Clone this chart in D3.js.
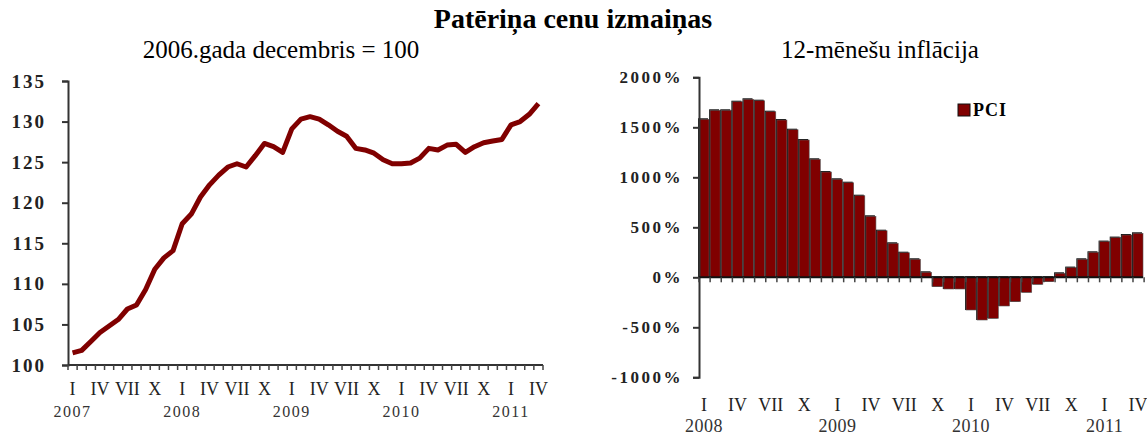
<!DOCTYPE html>
<html>
<head>
<meta charset="utf-8">
<script src="https://cdn.jsdelivr.net/npm/d3@7"></script>
<style>
  body { margin: 0; background: #fff; }
  svg { display: block; font-family: "Liberation Serif", "Times New Roman", serif; }
  .axis path, .axis line { stroke: #333; }
</style>
</head>
<body>
<svg id="chart" width="1147" height="436"></svg>
<script>
// months of each series
const romans = ['I', 'II', 'III', 'IV', 'V', 'VI', 'VII', 'VIII', 'IX', 'X', 'XI', 'XII'];
const indexYears = [2007, 2008, 2009, 2010, 2011];
const inflYears = [2008, 2009, 2010, 2011];

// PCI, 2006. gada decembris = 100 (I.2007 - IV.2011)
const cpiIndex = [
  101.5, 101.8, 102.9, 104.0, 104.8, 105.6, 106.9, 107.4, 109.3, 111.8, 113.2, 114.1,
  117.4, 118.6, 120.7, 122.2, 123.4, 124.4, 124.8, 124.4, 125.8, 127.3, 126.9, 126.2,
  129.1, 130.3, 130.6, 130.3, 129.6, 128.8, 128.2, 126.7, 126.5, 126.1, 125.3, 124.8,
  124.8, 124.9, 125.5, 126.7, 126.5, 127.1, 127.2, 126.2, 126.9, 127.4, 127.6, 127.8,
  129.6, 130.0, 130.9, 132.2
];

// 12-mēnešu inflācija (I.2008 - IV.2011)
const inflation = [
  1580, 1670, 1670, 1756, 1780, 1766, 1656, 1573, 1476, 1373, 1180, 1053,
  980, 946, 816, 610, 466, 340, 246, 180, 50, -93, -117, -117,
  -327, -427, -410, -287, -243, -150, -70, -43, 40, 97, 180, 250,
  357, 397, 423, 440
];

const indexTicks = [100, 105, 110, 115, 120, 125, 130, 135];
const inflTicks = [-1000, -500, 0, 500, 1000, 1500, 2000];
const legendLabel = 'PCI';

const DARKRED = '#800000';

function monthsFrom(year, n) {
  return d3.range(n).map(i => ({ key: i, year: year + Math.floor(i / 12), m: i % 12 }));
}

const svg = d3.select('#chart');

svg.append('text')
  .attr('x', 573).attr('y', 28)
  .attr('text-anchor', 'middle')
  .attr('font-size', 28).attr('font-weight', 'bold')
  .text('Patēriņa cenu izmaiņas');

svg.append('text')
  .attr('x', 281).attr('y', 58)
  .attr('text-anchor', 'middle')
  .attr('font-size', 25)
  .text('2006.gada decembris = 100');

svg.append('text')
  .attr('x', 880).attr('y', 58)
  .attr('text-anchor', 'middle')
  .attr('font-size', 25)
  .text('12-mēnešu inflācija');

// month axis: ticks on the category borders, roman numerals each quarter, year under January
function monthAxis(g, x, months, y0, labelY, yearY, opts) {
  const step = x.step();
  g.append('line')
    .attr('x1', x.range()[0]).attr('x2', x.range()[1])
    .attr('y1', y0).attr('y2', y0)
    .attr('stroke', opts.lineColor).attr('stroke-width', 2);
  g.selectAll('.mtick')
    .data(months.concat([{ key: months.length }]))
    .enter().append('line')
    .attr('class', 'mtick')
    .attr('x1', d => x.range()[0] + d.key * step)
    .attr('x2', d => x.range()[0] + d.key * step)
    .attr('y1', y0).attr('y2', y0 + 5)
    .attr('stroke', '#444').attr('stroke-width', 1.5);
  g.selectAll('.mlabel')
    .data(months.filter(d => d.m % 3 === 0))
    .enter().append('text')
    .attr('class', 'mlabel')
    .attr('x', d => x(d.key) + x.bandwidth() / 2)
    .attr('y', labelY)
    .attr('text-anchor', 'middle')
    .attr('font-size', opts.labelSize)
    .attr('fill', '#222')
    .text(d => romans[d.m]);
  g.selectAll('.ylabel')
    .data(months.filter(d => d.m === 0))
    .enter().append('text')
    .attr('class', 'ylabel')
    .attr('x', d => x(d.key) + x.bandwidth() / 2)
    .attr('y', yearY)
    .attr('text-anchor', 'middle')
    .attr('font-size', opts.yearSize)
    .attr('letter-spacing', opts.yearSpacing)
    .attr('fill', '#333')
    .text(d => d.year);
}

// ---- left: index line
(function() {
  const months = monthsFrom(indexYears[0], cpiIndex.length);
  const x = d3.scaleBand().domain(months.map(d => d.key)).range([68, 543]);
  const y = d3.scaleLinear().domain([100, 135]).range([365, 81]);
  const g = svg.append('g');

  const yAxis = g.append('g').attr('class', 'axis')
    .attr('transform', 'translate(68,0)')
    .call(d3.axisLeft(y).tickValues(indexTicks).tickSize(6).tickPadding(16));
  yAxis.select('.domain').attr('stroke-width', 2);
  yAxis.selectAll('.tick line').attr('stroke-width', 2);
  yAxis.selectAll('text')
    .attr('font-family', '"Liberation Serif", serif')
    .attr('font-size', 19).attr('font-weight', 'bold')
    .attr('letter-spacing', 2)
    .attr('fill', '#222');

  monthAxis(g, x, months, 365, 395, 417, { lineColor: '#333', labelSize: 18, yearSize: 16, yearSpacing: 1.5 });

  g.append('path')
    .datum(cpiIndex)
    .attr('fill', 'none')
    .attr('stroke', DARKRED)
    .attr('stroke-width', 5)
    .attr('stroke-linejoin', 'round')
    .attr('d', d3.line()
      .x((d, i) => x(i) + x.bandwidth() / 2)
      .y(d => y(d)));
})();

// ---- right: inflation bars
(function() {
  const months = monthsFrom(inflYears[0], inflation.length);
  const x = d3.scaleBand().domain(months.map(d => d.key)).range([699, 1143]).paddingInner(0.1);
  const y = d3.scaleLinear().domain([-1000, 2000]).range([377.3, 77.3]);
  const g = svg.append('g');

  const bars = g.append('g').selectAll('g')
    .data(inflation)
    .enter().append('g');
  // dark edge behind each bar
  bars.append('rect')
    .attr('x', (d, i) => x(i) - 1)
    .attr('y', d => Math.min(y(d), y(0)) - 1)
    .attr('width', x.bandwidth())
    .attr('height', d => Math.abs(y(d) - y(0)) + 1)
    .attr('fill', '#111');
  bars.append('rect')
    .attr('x', (d, i) => x(i))
    .attr('y', d => Math.min(y(d), y(0)))
    .attr('width', x.bandwidth())
    .attr('height', d => Math.abs(y(d) - y(0)))
    .attr('fill', DARKRED)
    .attr('stroke', '#555')
    .attr('stroke-width', 0.6);

  const yAxis = g.append('g').attr('class', 'axis')
    .attr('transform', 'translate(699,0)')
    .call(d3.axisLeft(y).tickValues(inflTicks).tickSize(6).tickPadding(10)
      .tickFormat(d => d + '%'));
  yAxis.select('.domain').attr('stroke-width', 2);
  yAxis.selectAll('.tick line').attr('stroke-width', 2);
  yAxis.selectAll('text')
    .attr('font-family', '"Liberation Serif", serif')
    .attr('font-size', 17).attr('font-weight', 'bold')
    .attr('letter-spacing', 2.5)
    .attr('fill', '#222');

  monthAxis(g, x, months, y(0), 411, 432, { lineColor: '#111', labelSize: 18, yearSize: 18, yearSpacing: 0.5 });

  const lg = g.append('g').attr('transform', 'translate(958,104)');
  lg.append('rect').attr('width', 12).attr('height', 12)
    .attr('fill', DARKRED).attr('stroke', '#111').attr('stroke-width', 1);
  lg.append('text').attr('x', 15).attr('y', 12)
    .attr('font-size', 18).attr('font-weight', 'bold')
    .attr('letter-spacing', 1)
    .text(legendLabel);
})();
</script>
</body>
</html>
